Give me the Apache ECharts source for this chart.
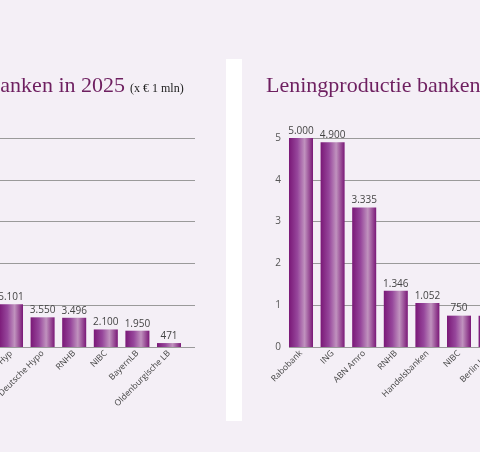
<!DOCTYPE html>
<html>
<head>
<meta charset="utf-8">
<script src="https://cdn.jsdelivr.net/npm/echarts@6/dist/echarts.min.js"></script>
<style>
html,body{margin:0;padding:0;background:#f4eff6;overflow:hidden;}
#c{width:480px;height:452px;}
</style>
</head>
<body>
<div id="c"></div>
<script>
// Left chart (x € 1 mln)
const leftCategories = ['Berlin Hyp', 'Deutsche Hypo', 'RNHB', 'NIBC', 'BayernLB', 'Oldenburgische LB'];
const leftValues = [5101, 3550, 3496, 2100, 1950, 471];
const leftAxisMax = 25000;
const leftAxisInterval = 5000;

// Right chart
const rightCategories = ['Rabobank', 'ING', 'ABN Amro', 'RNHB', 'Handelsbanken', 'NIBC', 'Berlin Hyp'];
const rightValues = [5000, 4900, 3335, 1346, 1052, 750, 750];
const rightAxisMax = 5000;
const rightAxisInterval = 1000;
const rightTickLabels = ['0', '1', '2', '3', '4', '5'];

const leftTitle = 'Vastgoedfinanciering banken in 2025';
const leftSubtitle = '(x € 1 mln)';
const rightTitle = 'Leningproductie banken in 2025';

function nl(v) {
  return String(v).replace(/\B(?=(\d{3})+(?!\d))/g, '.');
}

const barColor = {
  type: 'linear', x: 0, y: 0, x2: 1, y2: 0,
  colorStops: [
    {offset: 0, color: '#7a1877'},
    {offset: 0.35, color: '#96469b'},
    {offset: 0.65, color: '#c092be'},
    {offset: 1, color: '#7a1877'}
  ]
};

const TOP = 138, BOTTOM = 452 - 347;
const sans = 'Open Sans';

const chart = echarts.init(document.getElementById('c'));
chart.setOption({
  backgroundColor: '#f4eff6',
  animation: false,
  graphic: [
    {type: 'rect', shape: {x: 226, y: 59, width: 16, height: 362}, style: {fill: '#ffffff'}, silent: true, z: -10},
    {type: 'text', x: 125, y: 97, style: {text: leftTitle, fill: '#6e1f60', font: '22px "Liberation Serif"', textAlign: 'right', textVerticalAlign: 'bottom'}},
    {type: 'text', x: 130, y: 95, style: {text: leftSubtitle, fill: '#222222', font: '12px "Liberation Serif"', textAlign: 'left', textVerticalAlign: 'bottom'}},
    {type: 'text', x: 266, y: 97, style: {text: rightTitle, fill: '#6e1f60', font: '22px "Liberation Serif"', textAlign: 'left', textVerticalAlign: 'bottom'}}
  ],
  grid: [
    {left: -60, right: 480 - 195, top: TOP, bottom: BOTTOM, outerBoundsMode: 'none', containLabel: false},
    {left: -4.8, right: 480 - 184.8, top: TOP, bottom: BOTTOM, outerBoundsMode: 'none', containLabel: false},
    {left: 289, right: -40, top: TOP, bottom: BOTTOM, outerBoundsMode: 'none', containLabel: false},
    {left: 285.2, right: 480 - (285.2 + 31.6 * 7), top: TOP, bottom: BOTTOM, outerBoundsMode: 'none', containLabel: false}
  ],
  xAxis: [
    {gridIndex: 0, type: 'value', show: false},
    {gridIndex: 1, type: 'category', data: leftCategories,
      axisLine: {show: false}, axisTick: {show: false},
      axisLabel: {rotate: 45, interval: 0, margin: 5, fontSize: 8.5, color: '#444', fontFamily: sans}},
    {gridIndex: 2, type: 'value', show: false},
    {gridIndex: 3, type: 'category', data: rightCategories,
      axisLine: {show: false}, axisTick: {show: false},
      axisLabel: {rotate: 45, interval: 0, margin: 5, fontSize: 8.5, color: '#444', fontFamily: sans}}
  ],
  yAxis: [
    {gridIndex: 0, type: 'value', min: 0, max: leftAxisMax, interval: leftAxisInterval,
      axisLine: {show: false}, axisTick: {show: false}, axisLabel: {show: false},
      splitLine: {lineStyle: {color: '#9a9a9a', width: 1}}},
    {gridIndex: 1, type: 'value', min: 0, max: leftAxisMax, interval: leftAxisInterval, show: false, splitLine: {show: false}},
    {gridIndex: 2, type: 'value', min: 0, max: rightAxisMax, interval: rightAxisInterval,
      axisLine: {show: false}, axisTick: {show: false},
      axisLabel: {margin: 8, fontSize: 10, color: '#555', fontFamily: sans,
        formatter: (v) => rightTickLabels[Math.round(v / rightAxisInterval)]},
      splitLine: {lineStyle: {color: '#9a9a9a', width: 1}}},
    {gridIndex: 3, type: 'value', min: 0, max: rightAxisMax, interval: rightAxisInterval, show: false, splitLine: {show: false}}
  ],
  series: [
    {type: 'bar', xAxisIndex: 1, yAxisIndex: 1, data: leftValues, barWidth: '76%',
      itemStyle: {color: barColor},
      label: {show: true, position: 'top', distance: 2, fontSize: 10, color: '#444', fontFamily: sans, formatter: (p) => nl(p.value)}},
    {type: 'bar', xAxisIndex: 3, yAxisIndex: 3, data: rightValues, barWidth: '76%',
      itemStyle: {color: barColor},
      label: {show: true, position: 'top', distance: 2, fontSize: 10, color: '#444', fontFamily: sans, formatter: (p) => nl(p.value)}}
  ]
});
</script>
</body>
</html>
